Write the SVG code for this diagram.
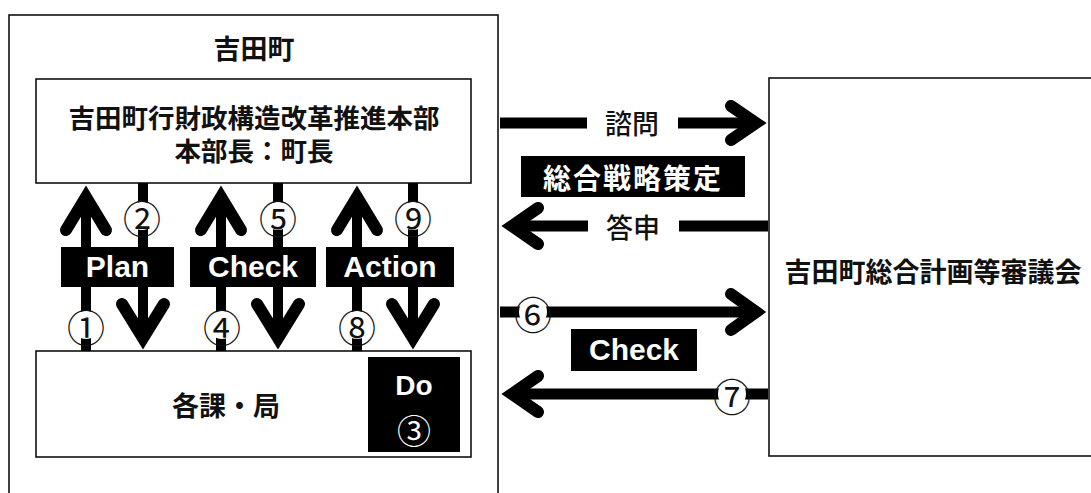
<svg xmlns="http://www.w3.org/2000/svg" width="1091" height="493" viewBox="0 0 1091 493">
<defs>
<style>
.box{fill:#fff;stroke:#111;stroke-width:1.6}
.jp{font-family:"Noto Sans CJK JP","Noto Sans",sans-serif;font-weight:bold;font-size:27px;fill:#111;text-anchor:middle;dominant-baseline:central}
.jpn{font-family:"Noto Sans CJK JP","Noto Sans",sans-serif;font-weight:500;font-size:27px;fill:#111;text-anchor:middle;dominant-baseline:central}
.lab{fill:#000}
.en{font-family:"Liberation Sans",Arial,sans-serif;font-weight:bold;font-size:30px;fill:#fff;text-anchor:middle}
.shaft{stroke:#000;stroke-width:10;fill:none}
.hshaft{stroke:#000;stroke-width:11;fill:none}
.head{stroke:#000;stroke-width:12;fill:none;stroke-linecap:round;stroke-linejoin:miter;stroke-miterlimit:6}
.cbg{fill:#fff}
.num{font-family:"Noto Sans CJK JP","DejaVu Sans",sans-serif;font-size:38px;fill:#111;text-anchor:middle;dominant-baseline:central}
</style>
</defs>
<rect width="1091" height="493" fill="#fff"/>

<g id="yoshida-town">
<rect class="box" x="9" y="15" width="489" height="495"/>
<text class="jp" x="254" y="47">吉田町</text>
</g>

<g id="hq">
<rect class="box" x="36" y="79" width="435" height="104"/>
<text class="jp" x="254" y="116" style="font-size:26.5px">吉田町行財政構造改革推進本部</text>
<text class="jp" x="254" y="149" style="font-size:26.5px">本部長：町長</text>
</g>

<g id="departments">
<rect class="box" x="36" y="351" width="435" height="106"/>
<text class="jp" x="226" y="404">各課・局</text>
</g>

<g id="do">
<rect class="lab" x="368" y="357" width="92" height="95"/>
<text class="en" x="414" y="395" style="font-size:28px">Do</text>
<text class="num" x="414" y="429" style="fill:#fff;font-size:34px">③</text>
</g>

<g id="council">
<rect class="box" x="769" y="78" width="330" height="378"/>
<text class="jp" x="933" y="270">吉田町総合計画等審議会</text>
</g>

<g id="connectors">
<!-- vertical up arrows -->
<line class="shaft" x1="86" y1="351" x2="86" y2="200"/>
<polyline class="head" points="66,230 86,197 106,230"/>
<line class="shaft" x1="221" y1="351" x2="221" y2="200"/>
<polyline class="head" points="201,230 221,197 241,230"/>
<line class="shaft" x1="357" y1="351" x2="357" y2="200"/>
<polyline class="head" points="337,230 357,197 377,230"/>
<!-- vertical down arrows -->
<line class="shaft" x1="143" y1="183" x2="143" y2="335"/>
<polyline class="head" points="122,304 143,338 164,304"/>
<line class="shaft" x1="278" y1="183" x2="278" y2="335"/>
<polyline class="head" points="257,304 278,338 299,304"/>
<line class="shaft" x1="413" y1="183" x2="413" y2="335"/>
<polyline class="head" points="392,304 413,338 434,304"/>

<!-- 諮問 -->
<line class="hshaft" x1="500" y1="123" x2="587" y2="123"/>
<line class="hshaft" x1="678" y1="123" x2="754" y2="123"/>
<polyline class="head" points="731,106 756,123 731,140"/>
<!-- 答申 -->
<line class="hshaft" x1="514" y1="226" x2="588" y2="226"/>
<line class="hshaft" x1="679" y1="226" x2="768" y2="226"/>
<polyline class="head" points="538,208 512,226 538,244"/>
<!-- ⑥ -->
<line class="hshaft" x1="500" y1="312" x2="754" y2="312"/>
<polyline class="head" points="731,294 756,312 731,330"/>
<!-- ⑦ -->
<line class="hshaft" x1="514" y1="394" x2="768" y2="394"/>
<polyline class="head" points="538,376 512,394 538,412"/>
</g>

<g id="labels">
<rect class="lab" x="61" y="247" width="113" height="40"/>
<text class="en" x="117.5" y="277">Plan</text>
<rect class="lab" x="190" y="247" width="126" height="40"/>
<text class="en" x="253" y="277">Check</text>
<rect class="lab" x="326" y="247" width="128" height="40"/>
<text class="en" x="390" y="277">Action</text>

<text class="jpn" x="632" y="122">諮問</text>
<rect class="lab" x="521" y="156" width="224" height="41"/>
<text class="jp" x="633" y="177" style="fill:#fff;font-size:28px;letter-spacing:2px">総合戦略策定</text>
<text class="jpn" x="633" y="226">答申</text>
<rect class="lab" x="571" y="329" width="126" height="42"/>
<text class="en" x="634" y="360">Check</text>
</g>

<g id="numbers">
<circle class="cbg" cx="86" cy="325" r="14"/><text class="num" x="86" y="325">①</text>
<circle class="cbg" cx="142" cy="216" r="14"/><text class="num" x="142" y="216">②</text>
<circle class="cbg" cx="222" cy="325" r="14"/><text class="num" x="222" y="325">④</text>
<circle class="cbg" cx="278" cy="216" r="14"/><text class="num" x="278" y="216">⑤</text>
<circle class="cbg" cx="357" cy="325" r="14"/><text class="num" x="357" y="325">⑧</text>
<circle class="cbg" cx="413" cy="216" r="14"/><text class="num" x="413" y="216">⑨</text>
<circle class="cbg" cx="533" cy="312" r="14"/><text class="num" x="533" y="312">⑥</text>
<circle class="cbg" cx="732" cy="394" r="14"/><text class="num" x="732" y="394">⑦</text>
</g>
</svg>
